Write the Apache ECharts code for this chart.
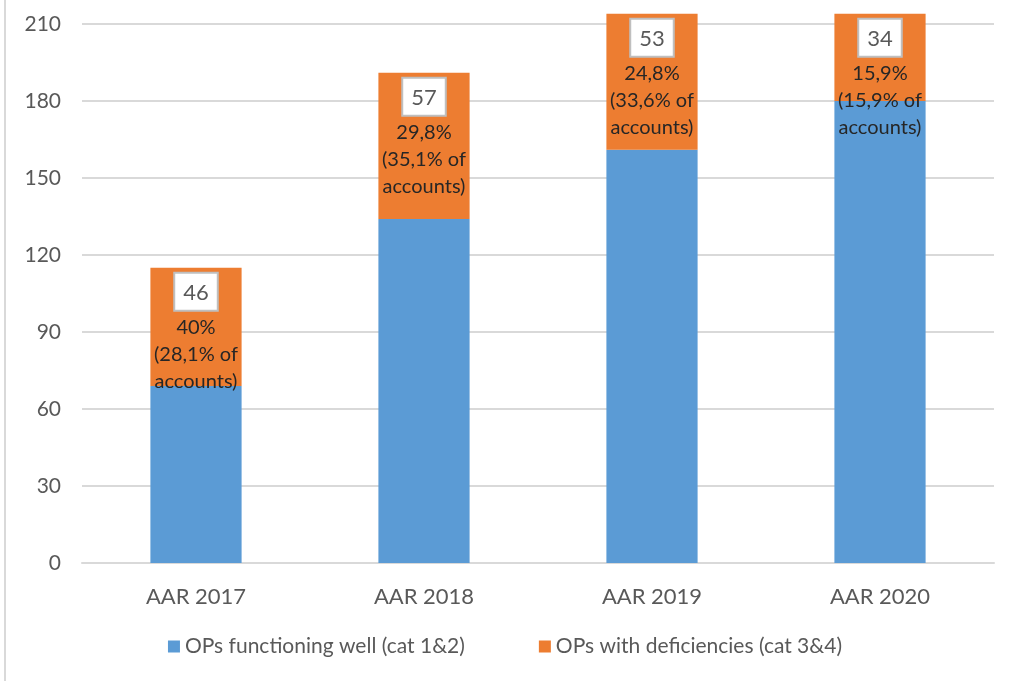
<!DOCTYPE html>
<html>
<head>
<meta charset="utf-8">
<script src="https://cdn.jsdelivr.net/npm/echarts@6/dist/echarts.min.js"></script>
<style>
  html, body { margin: 0; padding: 0; background: #fff; }
  #chart { width: 1010px; height: 681px; }
</style>
</head>
<body>
<div id="chart"></div>
<script>
const categories = ['AAR 2017', 'AAR 2018', 'AAR 2019', 'AAR 2020']
const wellValues = [69, 134, 161, 180]
const deficientValues = [46, 57, 53, 34]
const shareLabels = ['40%', '29,8%', '24,8%', '15,9%']
const accountLabels = ['28,1%', '35,1%', '33,6%', '15,9%']
const yTicks = [0, 30, 60, 90, 120, 150, 180, 210]

const font = 'Lato, "Open Sans", sans-serif'

const chart = echarts.init(document.getElementById('chart'))

const option = {
  animation: false,
  textStyle: { fontFamily: font },
  graphic: [
    {
      type: 'line',
      shape: { x1: 5, y1: 0, x2: 5, y2: 681 },
      style: { stroke: '#d9d9d9', lineWidth: 2 }
    }
  ],
  grid: {
    left: 82,
    right: 16,
    top: 24,
    bottom: 118
  },
  legend: {
    data: ['OPs functioning well (cat 1&2)', 'OPs with deficiencies (cat 3&4)'],
    bottom: 19,
    left: 'center',
    itemWidth: 12,
    itemHeight: 12,
    itemGap: 74,
    icon: 'rect',
    textStyle: { color: '#595959', fontSize: 21, fontFamily: font }
  },
  xAxis: {
    type: 'category',
    data: categories,
    axisLine: { lineStyle: { color: '#d9d9d9', width: 2 } },
    axisTick: { show: false },
    axisLabel: { color: '#595959', fontSize: 22, margin: 23, fontFamily: font }
  },
  yAxis: {
    type: 'value',
    min: yTicks[0],
    max: yTicks[yTicks.length - 1],
    interval: 30,
    axisLine: { show: false },
    axisTick: { show: false },
    axisLabel: { color: '#595959', fontSize: 21, margin: 21, fontFamily: font },
    splitLine: { lineStyle: { color: '#d9d9d9', width: 2 } }
  },
  series: [
    {
      name: 'OPs functioning well (cat 1&2)',
      type: 'bar',
      stack: 'total',
      barWidth: '40%',
      clip: false,
      itemStyle: { color: '#5b9bd5' },
      data: wellValues
    },
    {
      name: 'OPs with deficiencies (cat 3&4)',
      type: 'bar',
      stack: 'total',
      barWidth: '40%',
      clip: false,
      z: 3,
      itemStyle: { color: '#ed7d31' },
      data: deficientValues,
      label: {
        show: true,
        position: 'insideTop',
        distance: 2,
        formatter: function (p) {
          const i = p.dataIndex
          return '{box|' + deficientValues[i] + '}\n{t|' + shareLabels[i] + '}\n{t|(' +
            accountLabels[i] + ' of}\n{t|accounts)}'
        },
        rich: {
          box: {
            fontFamily: font,
            fontSize: 22,
            color: '#595959',
            backgroundColor: '#fff',
            borderColor: '#bfbfbf',
            borderWidth: 2,
            padding: [8, 8, 6, 8],
            lineHeight: 44,
            align: 'center'
          },
          t: {
            fontFamily: font,
            fontSize: 20,
            color: '#262626',
            lineHeight: 27,
            align: 'center'
          }
        }
      }
    }
  ]
}

chart.setOption(option)
</script>
</body>
</html>
